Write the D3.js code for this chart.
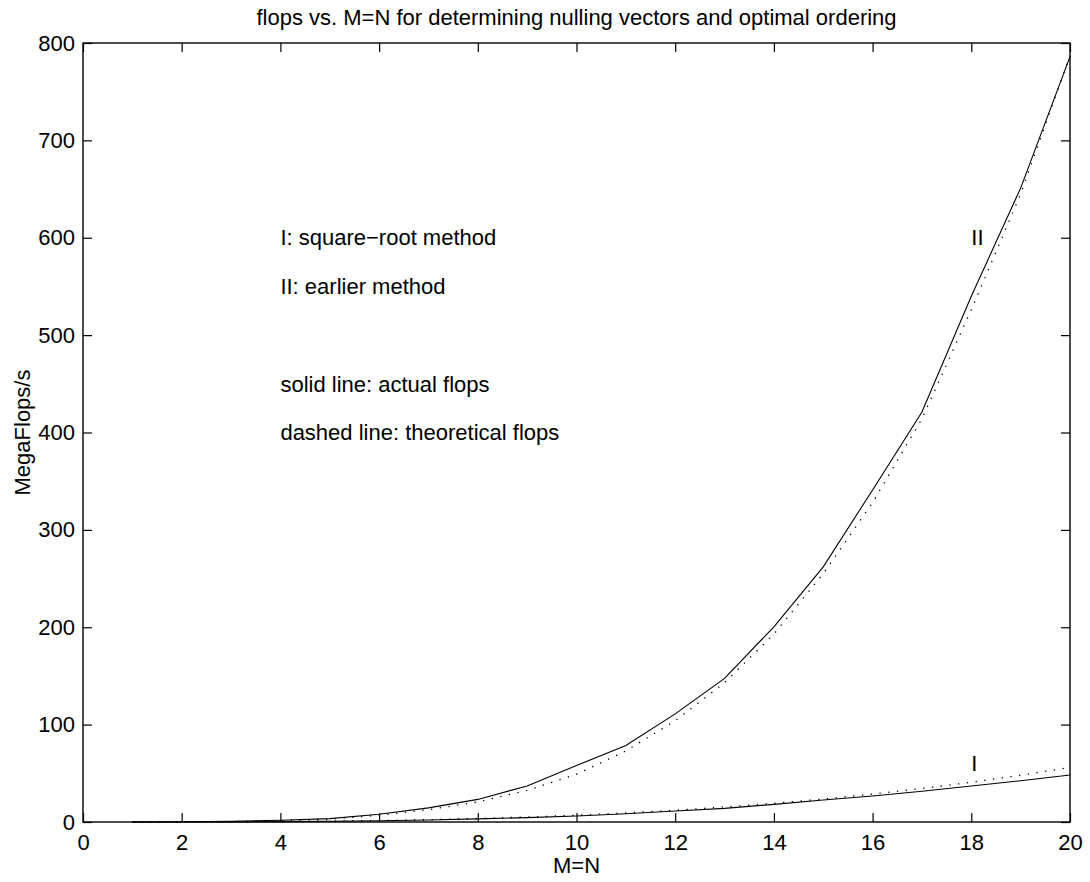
<!DOCTYPE html>
<html>
<head>
<meta charset="utf-8">
<script src="https://cdn.jsdelivr.net/npm/d3@7"></script>
<style>
  html, body { margin: 0; padding: 0; background: #fff; }
  svg text { font-family: "Liberation Sans", Arial, Helvetica, sans-serif; fill: #000; }
</style>
</head>
<body>
<svg id="chart" width="1090" height="882"></svg>
<script>
// Problem size M = N
const sizes = [1, 2, 3, 4, 5, 6, 7, 8, 9, 10, 11, 12, 13, 14, 15, 16, 17, 18, 19, 20];

// Method I (square-root method), MegaFlops
const sqrtActual      = [0, 0.05, 0.15, 0.4, 0.8, 1.3, 2.1, 3.2, 4.5, 6.2, 8.5, 11.3, 14, 18.1, 22.6, 26.7, 31.5, 37, 42.4, 48.3];
const sqrtTheoretical = [0.01, 0.06, 0.2, 0.45, 0.9, 1.5, 2.4, 3.6, 5.1, 7, 9.3, 12.1, 15.4, 19.2, 23.6, 28.7, 34.4, 40.8, 48, 56];

// Method II (earlier method), MegaFlops
const earlierActual      = [0.05, 0.2, 0.8, 1.8, 3.5, 7.9, 14.5, 23.2, 37, 58, 78.5, 111, 147.5, 200.5, 262, 341, 421, 540, 651, 786];
const earlierTheoretical = [0.01, 0.1, 0.4, 1.3, 3, 6.9, 12.7, 20.6, 32.5, 49, 73, 104, 143, 193, 255, 328, 414, 526, 645, 787];

// Axis ticks
const xTicks = [0, 2, 4, 6, 8, 10, 12, 14, 16, 18, 20];
const yTicks = [0, 100, 200, 300, 400, 500, 600, 700, 800];

// Annotations: [x, y, text]
const notes = [
  [4, 600, "I: square\u2212root method"],
  [4, 550, "II: earlier method"],
  [4, 450, "solid line: actual flops"],
  [4, 400, "dashed line: theoretical flops"],
  [18, 600, "II"],
  [18, 60, "I"]
];

const titleText = "flops vs. M=N for determining nulling vectors and optimal ordering";
const xLabel = "M=N";
const yLabel = "MegaFlops/s";

const svg = d3.select("#chart");
const plotLeft = 83, plotRight = 1070, plotTop = 43, plotBottom = 822;
const fontSize = 22;
const tickLen = 9;

const x = d3.scaleLinear().domain([0, 20]).range([plotLeft, plotRight]);
const y = d3.scaleLinear().domain([0, 800]).range([plotBottom, plotTop]);

// Axes with inward ticks on all four sides
const g = svg.append("g");
g.append("g").attr("transform", `translate(0,${plotBottom})`)
  .call(d3.axisBottom(x).tickValues(xTicks).tickSizeInner(-tickLen).tickSizeOuter(0).tickPadding(12))
  .call(a => a.selectAll("text").attr("font-size", fontSize).attr("dy", "0.71em"));
g.append("g").attr("transform", `translate(0,${plotTop})`)
  .call(d3.axisTop(x).tickValues(xTicks).tickSizeInner(-tickLen).tickSizeOuter(0).tickFormat(""));
g.append("g").attr("transform", `translate(${plotLeft},0)`)
  .call(d3.axisLeft(y).tickValues(yTicks).tickSizeInner(-tickLen).tickSizeOuter(0).tickPadding(8))
  .call(a => a.selectAll("text").attr("font-size", fontSize));
g.append("g").attr("transform", `translate(${plotRight},0)`)
  .call(d3.axisRight(y).tickValues(yTicks).tickSizeInner(-tickLen).tickSizeOuter(0).tickFormat(""));
g.selectAll(".domain").remove();
g.selectAll(".tick line").attr("stroke", "#000").attr("stroke-width", 1.2);
g.selectAll("g").attr("font-family", null);

// Plot box
svg.append("rect")
  .attr("x", plotLeft).attr("y", plotTop)
  .attr("width", plotRight - plotLeft).attr("height", plotBottom - plotTop)
  .attr("fill", "none").attr("stroke", "#000").attr("stroke-width", 1.4);

// Curves
const line = d3.line().x(d => x(d[0])).y(d => y(d[1]));
const series = [
  { values: earlierActual, dash: null },
  { values: earlierTheoretical, dash: "1.3,7.5" },
  { values: sqrtActual, dash: null },
  { values: sqrtTheoretical, dash: "1.3,7.5" }
];
svg.append("g").selectAll("path").data(series).join("path")
  .attr("d", s => line(sizes.map((m, i) => [m, s.values[i]])))
  .attr("fill", "none")
  .attr("stroke", "#000")
  .attr("stroke-width", s => s.dash ? 1.3 : 1.1)
  .attr("stroke-dasharray", s => s.dash);

// Annotation texts
svg.append("g").selectAll("text").data(notes).join("text")
  .attr("x", d => x(d[0]))
  .attr("y", d => y(d[1]))
  .attr("dy", "0.35em")
  .attr("font-size", fontSize)
  .text(d => d[2]);

// Title and axis labels
svg.append("text").attr("x", (plotLeft + plotRight) / 2).attr("y", 25)
  .attr("text-anchor", "middle").attr("font-size", fontSize).text(titleText);
svg.append("text").attr("x", (plotLeft + plotRight) / 2).attr("y", 873)
  .attr("text-anchor", "middle").attr("font-size", fontSize).text(xLabel);
svg.append("text")
  .attr("transform", `translate(30,${(plotTop + plotBottom) / 2}) rotate(-90)`)
  .attr("text-anchor", "middle").attr("font-size", fontSize).text(yLabel);
</script>
</body>
</html>
